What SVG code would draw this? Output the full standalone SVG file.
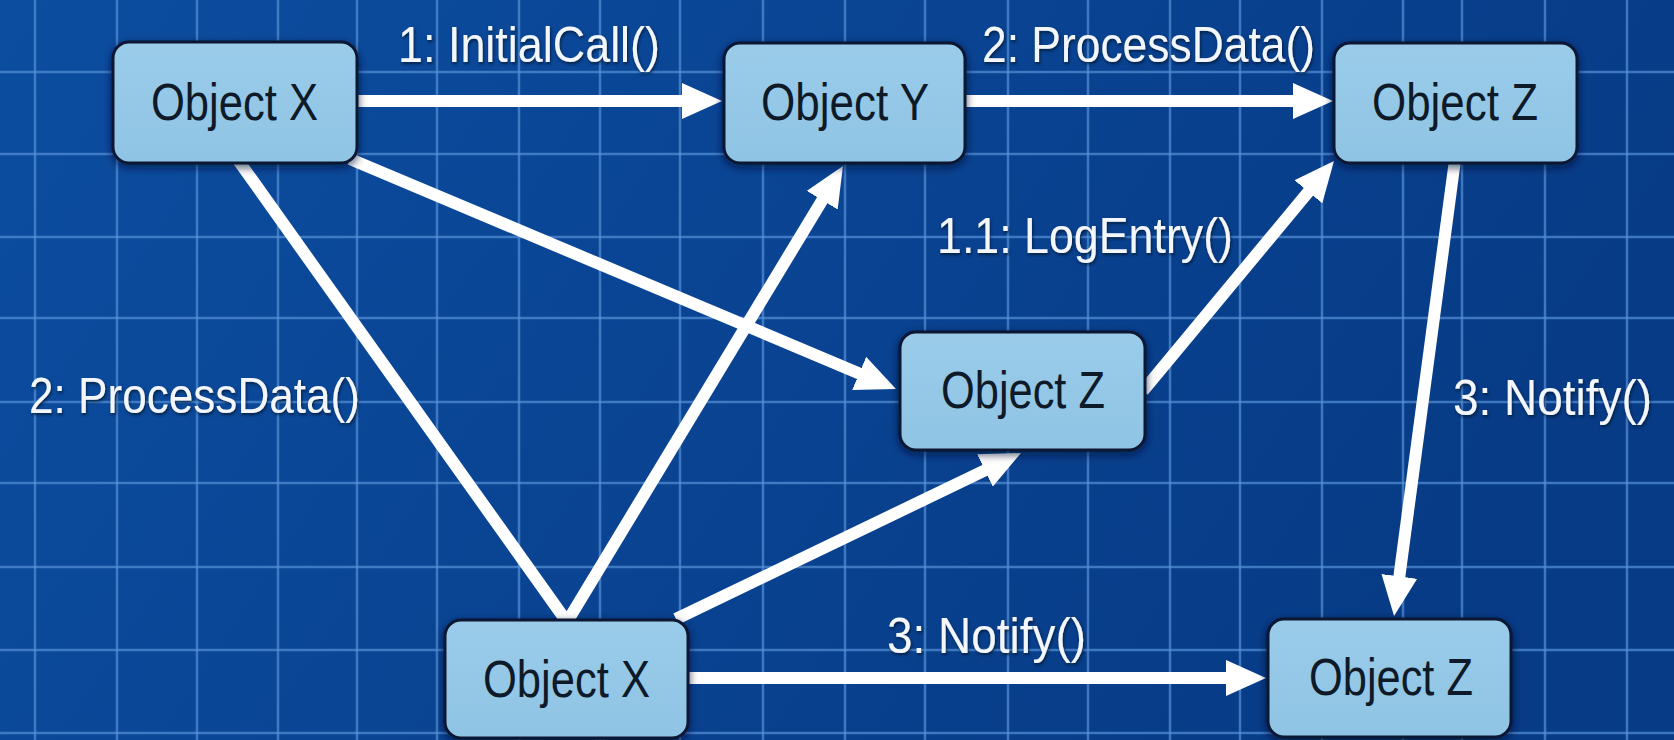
<svg xmlns="http://www.w3.org/2000/svg" width="1674" height="740" viewBox="0 0 1674 740">
  <defs>
    <linearGradient id="bg" x1="0" y1="0" x2="1" y2="0.3">
      <stop offset="0" stop-color="#0c4da0"/>
      <stop offset="1" stop-color="#073b86"/>
    </linearGradient>
    <linearGradient id="nodeFill" x1="0" y1="0" x2="0" y2="1">
      <stop offset="0" stop-color="#9accea"/>
      <stop offset="1" stop-color="#90c4e4"/>
    </linearGradient>
    <filter id="shadow" x="-20%" y="-20%" width="140%" height="150%">
      <feDropShadow dx="0" dy="3" stdDeviation="4" flood-color="#021533" flood-opacity="0.7"/>
    </filter>
    <filter id="txtShadow" x="-10%" y="-20%" width="120%" height="150%">
      <feDropShadow dx="1" dy="2" stdDeviation="1.5" flood-color="#021533" flood-opacity="0.8"/>
    </filter>
    <marker id="arrow" markerUnits="userSpaceOnUse" viewBox="0 0 40 36" refX="20" refY="18" markerWidth="40" markerHeight="36" orient="auto">
      <path d="M0,0 L40,18 L0,36 z" fill="#ffffff"/>
    </marker>
  </defs>
  <style>
    .grid line { stroke: #5591d6; stroke-width: 2.5; opacity: 0.7; }
    .conn { stroke: #ffffff; stroke-width: 12; fill: none; stroke-linecap: butt; }
    .arr { marker-end: url(#arrow); }
    .box { fill: url(#nodeFill); stroke: #0a1730; stroke-width: 3; filter: url(#shadow); }
    .ntext { font-family: "Liberation Sans Narrow", "Liberation Sans", Arial, sans-serif; font-size: 52px; fill: #0e1a28; }
    .label { font-family: "Liberation Sans Narrow", "Liberation Sans", Arial, sans-serif; font-size: 50px; fill: #f3f7fb; filter: url(#txtShadow); }
  </style>

  <rect x="0" y="0" width="1674" height="740" fill="url(#bg)"/>

  <g class="grid">
    <line x1="35" y1="0" x2="35" y2="740"/>
    <line x1="117" y1="0" x2="117" y2="740"/>
    <line x1="197" y1="0" x2="197" y2="740"/>
    <line x1="278" y1="0" x2="278" y2="740"/>
    <line x1="357" y1="0" x2="357" y2="740"/>
    <line x1="437" y1="0" x2="437" y2="740"/>
    <line x1="519" y1="0" x2="519" y2="740"/>
    <line x1="600" y1="0" x2="600" y2="740"/>
    <line x1="680" y1="0" x2="680" y2="740"/>
    <line x1="763" y1="0" x2="763" y2="740"/>
    <line x1="845" y1="0" x2="845" y2="740"/>
    <line x1="925" y1="0" x2="925" y2="740"/>
    <line x1="1008" y1="0" x2="1008" y2="740"/>
    <line x1="1088" y1="0" x2="1088" y2="740"/>
    <line x1="1170" y1="0" x2="1170" y2="740"/>
    <line x1="1240" y1="0" x2="1240" y2="740"/>
    <line x1="1322" y1="0" x2="1322" y2="740"/>
    <line x1="1403" y1="0" x2="1403" y2="740"/>
    <line x1="1462" y1="0" x2="1462" y2="740"/>
    <line x1="1545" y1="0" x2="1545" y2="740"/>
    <line x1="1627" y1="0" x2="1627" y2="740"/>
    <line x1="0" y1="72" x2="1674" y2="72"/>
    <line x1="0" y1="154" x2="1674" y2="154"/>
    <line x1="0" y1="237" x2="1674" y2="237"/>
    <line x1="0" y1="318" x2="1674" y2="318"/>
    <line x1="0" y1="402" x2="1674" y2="402"/>
    <line x1="0" y1="483" x2="1674" y2="483"/>
    <line x1="0" y1="567" x2="1674" y2="567"/>
    <line x1="0" y1="650" x2="1674" y2="650"/>
    <line x1="0" y1="733" x2="1674" y2="733"/>
  </g>

  <g id="connectors">
    <line class="conn arr" x1="356" y1="101" x2="702" y2="101"/>
    <line class="conn arr" x1="964" y1="101" x2="1313" y2="101"/>
    <line class="conn arr" x1="350" y1="159" x2="877.6" y2="381.2"/>
    <line class="conn" x1="238" y1="160" x2="567" y2="622"/>
    <line class="conn arr" x1="567" y1="622" x2="832.6" y2="183.1"/>
    <line class="conn arr" x1="676" y1="619" x2="1003" y2="461.7"/>
    <line class="conn arr" x1="1143" y1="391" x2="1321.2" y2="176.4"/>
    <line class="conn arr" x1="1455" y1="160" x2="1396.7" y2="596.2"/>
    <line class="conn arr" x1="686" y1="678" x2="1246" y2="678"/>
  </g>

  <g id="labels">
    <text class="label" x="398" y="62" textLength="262" lengthAdjust="spacingAndGlyphs">1: InitialCall()</text>
    <text class="label" x="982" y="62" textLength="333" lengthAdjust="spacingAndGlyphs">2: ProcessData()</text>
    <text class="label" x="937" y="253" textLength="296" lengthAdjust="spacingAndGlyphs">1.1: LogEntry()</text>
    <text class="label" x="29" y="413" textLength="331" lengthAdjust="spacingAndGlyphs">2: ProcessData()</text>
    <text class="label" x="1453" y="415" textLength="199" lengthAdjust="spacingAndGlyphs">3: Notify()</text>
    <text class="label" x="887" y="653" textLength="199" lengthAdjust="spacingAndGlyphs">3: Notify()</text>
  </g>

  <g id="node-object-x-top">
    <rect class="box" x="113" y="42" width="244" height="121" rx="16"/>
    <text class="ntext" x="151" y="120" textLength="167" lengthAdjust="spacingAndGlyphs">Object X</text>
  </g>
  <g id="node-object-y">
    <rect class="box" x="724" y="43" width="241" height="120" rx="16"/>
    <text class="ntext" x="761" y="120" textLength="168" lengthAdjust="spacingAndGlyphs">Object Y</text>
  </g>
  <g id="node-object-z-top">
    <rect class="box" x="1334" y="43" width="243" height="120" rx="16"/>
    <text class="ntext" x="1372" y="120" textLength="166" lengthAdjust="spacingAndGlyphs">Object Z</text>
  </g>
  <g id="node-object-z-middle">
    <rect class="box" x="900" y="332" width="245" height="118" rx="16"/>
    <text class="ntext" x="941" y="408" textLength="164" lengthAdjust="spacingAndGlyphs">Object Z</text>
  </g>
  <g id="node-object-x-bottom">
    <rect class="box" x="445" y="620" width="243" height="118" rx="16"/>
    <text class="ntext" x="483" y="697" textLength="167" lengthAdjust="spacingAndGlyphs">Object X</text>
  </g>
  <g id="node-object-z-bottom">
    <rect class="box" x="1268" y="619" width="243" height="118" rx="16"/>
    <text class="ntext" x="1309" y="695" textLength="164" lengthAdjust="spacingAndGlyphs">Object Z</text>
  </g>
</svg>
